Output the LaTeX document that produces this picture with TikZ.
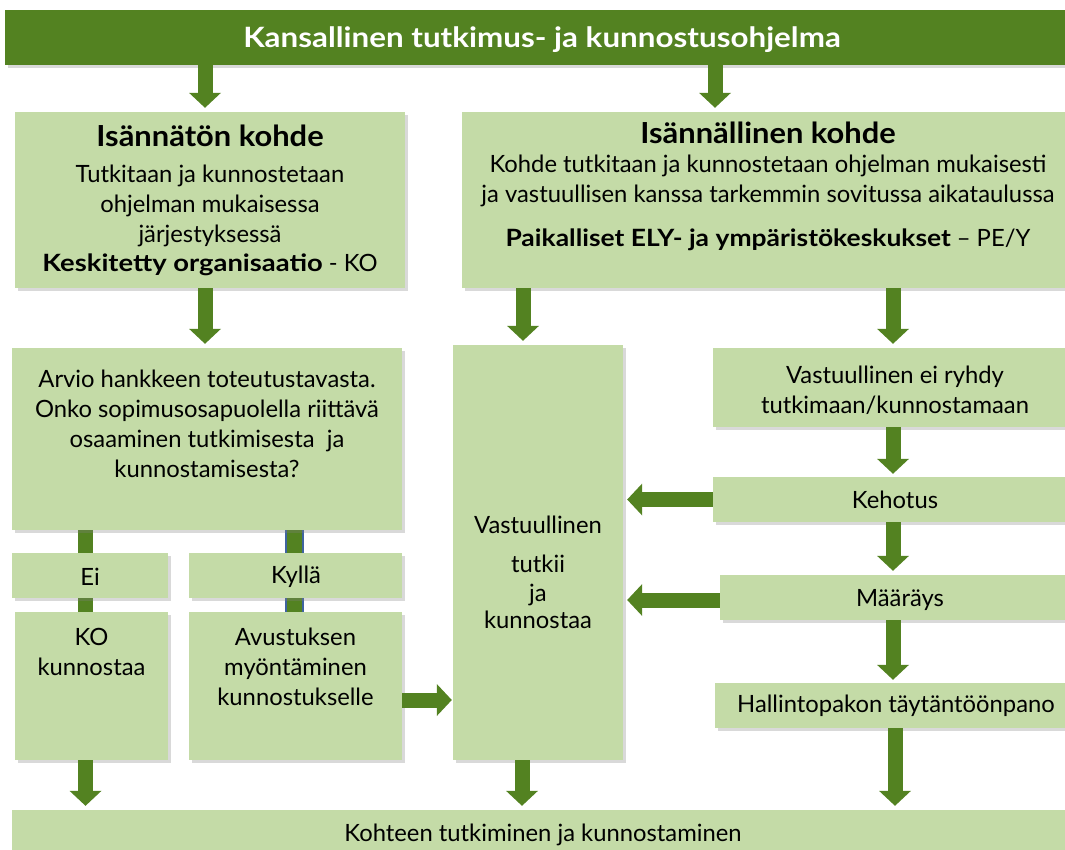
\documentclass[tikz,border=0pt]{standalone}
\usepackage{fontspec}
\setmainfont{Lato}
\usetikzlibrary{arrows.meta,shadows,calc}
\definecolor{dk}{HTML}{538221}
\definecolor{lt}{HTML}{C4DBA7}
\definecolor{bluebar}{HTML}{3F64A0}
\pgfdeclarelayer{bg}
\pgfsetlayers{bg,main}
\newcommand\bodyfs{\fontsize{23.8}{30}\selectfont}
\newcommand\headfs{\fontsize{29}{32}\selectfont}
\newcommand\topfs{\fontsize{28}{32}\selectfont}
\newcommand\hd[1]{\scalebox{1.065}[1]{\headfs\bfseries #1}}
\newcommand\bw[2]{\scalebox{#1}[1]{\textbf{#2}}}
\tikzset{
  box/.style={fill=lt, draw=none, inner sep=0pt,
    drop shadow={opacity=0.3, shadow xshift=2.5pt, shadow yshift=-3pt}},
  txt/.style={align=center, font=\bodyfs, inner sep=0pt, text=black},
  fat/.style={draw=dk, line width=15pt, shorten >=4pt,
    -{Triangle[width=32pt,length=15pt,line width=0pt]}},
  bar/.style={draw=dk, line width=15pt},
}
\begin{document}
\begin{tikzpicture}[x=1pt,y=-1pt]
\useasboundingbox (0,0) rectangle (1065,849);
% boxes
\node[box, fill=dk, minimum width=1070pt, minimum height=55pt] (top) at (540,37.5) {};
\node[box, minimum width=390pt, minimum height=176pt] (isn) at (210,200) {};
\node[box, minimum width=613pt, minimum height=176pt] (isl) at (768.5,200) {};
\node[box, minimum width=390pt, minimum height=182pt] (arvio) at (207,439) {};
\node[box, minimum width=170pt, minimum height=415pt] (vt) at (538,552.5) {};
\node[box, minimum width=364pt, minimum height=79pt] (vr) at (895,387.5) {};
\node[box, minimum width=364pt, minimum height=45pt] (keh) at (895,499.5) {};
\node[box, minimum width=360pt, minimum height=45pt] (maa) at (900,597.5) {};
\node[box, minimum width=362pt, minimum height=45pt] (hal) at (896,705.5) {};
\node[box, minimum width=156pt, minimum height=45pt] (ei) at (90,575.5) {};
\node[box, minimum width=213pt, minimum height=45pt] (ky) at (295.5,575.5) {};
\node[box, minimum width=153pt, minimum height=148pt] (ko) at (91.5,686) {};
\node[box, minimum width=213pt, minimum height=148pt] (av) at (295.5,686) {};
\node[box, minimum width=1063pt, minimum height=60pt] (bot) at (543.5,840) {};
% texts
\node[txt, text=white] (topt) at (542,40) {\scalebox{1.12}[1]{\topfs\bfseries Kansallinen tutkimus- ja kunnostusohjelma}};
\node[txt] (isnt) at (210,200) {\hd{Isännätön kohde}\\[6pt]Tutkitaan ja kunnostetaan\\ohjelman mukaisessa\\järjestyksessä\\[-1pt]\bw{1.15}{Keskitetty organisaatio} - KO};
\node[txt] (islt) at (768,186) {\hd{Isännällinen kohde}\\[-1pt]Kohde tutkitaan ja kunnostetaan ohjelman mukaisesti\\ja vastuullisen kanssa tarkemmin sovitussa aikataulussa\\[14pt]\bw{1.11}{Paikalliset ELY- ja ympäristökeskukset} – PE/Y};
\node[txt] (arviot) at (207,424) {Arvio hankkeen toteutustavasta.\\Onko sopimusosapuolella riittävä\\osaaminen tutkimisesta~ ja\\kunnostamisesta?};
\node[txt] (vtt) at (538,572) {Vastuullinen\\[9pt]tutkii\\[-1pt]ja\\[-3pt]kunnostaa};
\node[txt] (vrt) at (895,390) {Vastuullinen ei ryhdy\\tutkimaan/kunnostamaan};
\node[txt] (keht) at (895,500) {Kehotus};
\node[txt] (maat) at (900,600) {Määräys};
\node[txt] (halt) at (896,706) {Hallintopakon täytäntöönpano};
\node[txt] (eit) at (90,577) {Ei};
\node[txt] (kyt) at (296,577) {Kyllä};
\node[txt] (kot) at (91.5,652) {KO\\kunnostaa};
\node[txt] (avt) at (295.5,667) {Avustuksen\\myöntäminen\\kunnostukselle};
\node[txt] (bott) at (543,835) {Kohteen tutkiminen ja kunnostaminen};
% guide coordinates
\coordinate (c1) at (205,0);
\coordinate (c2) at (715,0);
\coordinate (c3) at (523,0);
\coordinate (c4) at (893,0);
\coordinate (c5) at (895,0);
\coordinate (c6) at (85.5,0);
\coordinate (c7) at (522,0);
\coordinate (c8) at (294.5,0);
\coordinate (c9) at (0,700);
\coordinate (c10) at (0,600);
% bars behind boxes
\begin{pgfonlayer}{bg}
\draw[bar] (arvio.south -| c6) -- (ko.north -| c6);
\draw[draw=bluebar, line width=19pt] (arvio.south -| c8) -- (av.north -| c8);
\draw[bar] (arvio.south -| c8) -- (av.north -| c8);
\end{pgfonlayer}
% arrows
\draw[fat] (top.south -| c1) -- (isn.north -| c1);
\draw[fat] (top.south -| c2) -- (isl.north -| c2);
\draw[fat] (isn.south -| c1) -- (arvio.north -| c1);
\draw[fat] (isl.south -| c3) -- (vt.north -| c3);
\draw[fat] (isl.south -| c4) -- (vr.north -| c4);
\draw[fat, shorten >=3pt] (vr.south -| c4) -- (keh.north -| c4);
\draw[fat] (keh.south -| c4) -- (maa.north -| c4);
\draw[fat, shorten >=3pt] (maa.south -| c4) -- (hal.north -| c4);
\draw[fat] (hal.south -| c5) -- (bot.north -| c5);
\draw[fat] (ko.south -| c6) -- (bot.north -| c6);
\draw[fat] (vt.south -| c7) -- (bot.north -| c7);
\draw[fat] (keh.west) -- (vt.east |- keh.west);
\draw[fat] (maa.west |- c10) -- (vt.east |- c10);
\draw[fat, shorten >=1pt] (av.east |- c9) -- (vt.west |- c9);
\end{tikzpicture}
\end{document}
